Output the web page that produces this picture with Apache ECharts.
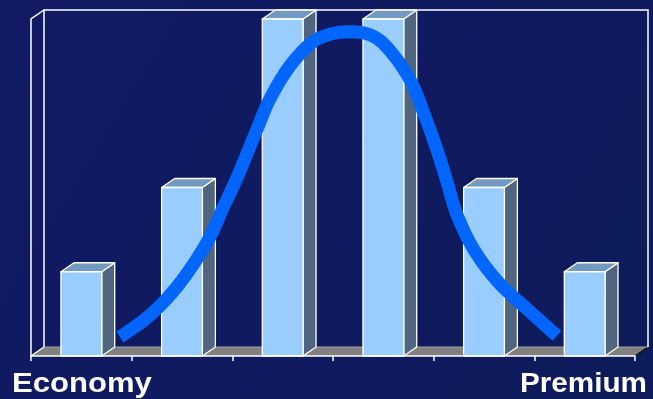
<!DOCTYPE html>
<html>
<head>
<meta charset="utf-8">
<script src="https://cdn.jsdelivr.net/npm/echarts@6/dist/echarts.min.js"></script>
<style>
html,body{margin:0;padding:0;background:#101a60;}
#c{width:653px;height:399px;}
</style>
</head>
<body>
<div id="c"></div>
<script>
// ---- data ----
const categories = ['1', '2', '3', '4', '5', '6'];
const barValues = [1, 2, 4, 4, 2, 1];
// bell curve, x in category units (0 = left edge of axis), y in value units
const curveX = [0.884, 1.113, 1.281, 1.450, 1.609, 1.778, 1.907, 2.046, 2.235, 2.374, 2.573, 2.801, 2.990, 3.169, 3.387, 3.566, 3.765, 3.904, 4.033, 4.132, 4.232, 4.401, 4.639, 4.937, 5.225];
const curveY = [0.226, 0.416, 0.594, 0.820, 1.081, 1.414, 1.758, 2.115, 2.661, 3.053, 3.445, 3.730, 3.825, 3.849, 3.802, 3.624, 3.279, 2.875, 2.447, 2.067, 1.675, 1.259, 0.879, 0.547, 0.238];
const leftLabel = 'Economy';
const rightLabel = 'Premium';

const DX = 13, DY = -9;
const chart = echarts.init(document.getElementById('c'), null, {renderer: 'canvas'});

function frameItem(params, api) {
  const cs = params.coordSys;
  const x0 = cs.x, x1 = cs.x + cs.width, y0 = cs.y, y1 = cs.y + cs.height;
  return {
    type: 'group',
    children: [
      {type: 'polygon', shape: {points: [[x0, y1], [x1, y1], [x1 + DX, y1 + DY], [x0 + DX, y1 + DY]]},
        style: {fill: '#808080', stroke: null}},
      {type: 'line', shape: {x1: x1, y1: y1, x2: x1 + DX, y2: y1 + DY}, style: {stroke: '#111', lineWidth: 1.5}},
      {type: 'line', shape: {x1: x0 + DX, y1: y1 + DY, x2: x1 + DX, y2: y1 + DY}, style: {stroke: '#a0a0a0', lineWidth: 1}},
      {type: 'polyline', shape: {points: [[x0 + DX, y1 + DY], [x0 + DX, y0 + DY], [x1 + DX, y0 + DY], [x1 + DX, y1 + DY]]},
        style: {fill: null, stroke: '#ffffff', lineWidth: 1.5}},
      {type: 'polyline', shape: {points: [[x0, y1], [x0, y0], [x0 + DX, y0 + DY]]},
        style: {fill: null, stroke: '#ffffff', lineWidth: 1.5}},
      {type: 'line', shape: {x1: x0, y1: y1, x2: x0 + DX, y2: y1 + DY}, style: {stroke: '#ffffff', lineWidth: 1.5}}
    ]
  };
}

function barItem(params, api) {
  const idx = api.value(0), v = api.value(1);
  const base = api.coord([idx, 0]);
  const top = api.coord([idx, v]);
  const bw = api.size([1, 0])[0] * 0.405;
  const x = base[0] - bw / 2, xr = x + bw;
  const yt = top[1], yb = base[1];
  const st = {stroke: '#ffffff', lineWidth: 1.3, lineJoin: 'round'};
  return {
    type: 'group',
    children: [
      {type: 'polygon', shape: {points: [[xr, yt], [xr + DX, yt + DY], [xr + DX, yb + DY], [xr, yb]]},
        style: Object.assign({fill: '#4f6580'}, st)},
      {type: 'polygon', shape: {points: [[x, yt], [x + DX, yt + DY], [xr + DX, yt + DY], [xr, yt]]},
        style: Object.assign({fill: '#7299bf'}, st)},
      {type: 'rect', shape: {x: x, y: yt, width: bw, height: yb - yt},
        style: Object.assign({fill: '#99ccff'}, st)}
    ]
  };
}

const curveData = curveX.map((x, i) => [x, curveY[i]]);

chart.setOption({
  backgroundColor: {
    type: 'linear', x: 0, y: 0, x2: 1, y2: 1,
    colorStops: [{offset: 0, color: '#111a64'}, {offset: 0.6, color: '#0f1a5f'}, {offset: 1, color: '#0d1b5a'}]
  },
  animation: false,
  grid: {left: 31, right: 18, top: 19, bottom: 43},
  xAxis: [
    {type: 'category', data: categories, boundaryGap: true,
      axisLine: {show: true, lineStyle: {color: '#ffffff', width: 1.5}},
      axisTick: {show: true, length: 5, lineStyle: {color: '#ffffff', width: 1.5}},
      axisLabel: {show: false}, splitLine: {show: false}, z: 5},
    {type: 'value', min: 0, max: 6, show: false}
  ],
  yAxis: {type: 'value', min: 0, max: 4, show: false, splitLine: {show: false}},
  graphic: [
    {type: 'text', left: 12, top: 371, scaleX: 1.15,
      style: {text: leftLabel, fill: '#ffffff', font: 'bold 27px "Liberation Sans", Arial, sans-serif',
        shadowColor: 'rgba(0,0,0,0.5)', shadowBlur: 2, shadowOffsetX: 1, shadowOffsetY: 1}},
    {type: 'text', right: 6, top: 371, scaleX: 1.1, originX: 646,
      style: {text: rightLabel, fill: '#ffffff', font: 'bold 27px "Liberation Sans", Arial, sans-serif',
        shadowColor: 'rgba(0,0,0,0.5)', shadowBlur: 2, shadowOffsetX: 1, shadowOffsetY: 1}}
  ],
  series: [
    {type: 'custom', renderItem: frameItem, data: [[0, 0]], z: 1, silent: true},
    {type: 'custom', renderItem: barItem, data: barValues.map((v, i) => [i, v]), z: 3,
      encode: {x: 0, y: 1}},
    {type: 'line', xAxisIndex: 1, data: curveData, smooth: 0.4, symbol: 'none', z: 6,
      lineStyle: {color: '#0066ff', width: 13, cap: 'butt', join: 'round'}}
  ]
});
</script>
</body>
</html>
